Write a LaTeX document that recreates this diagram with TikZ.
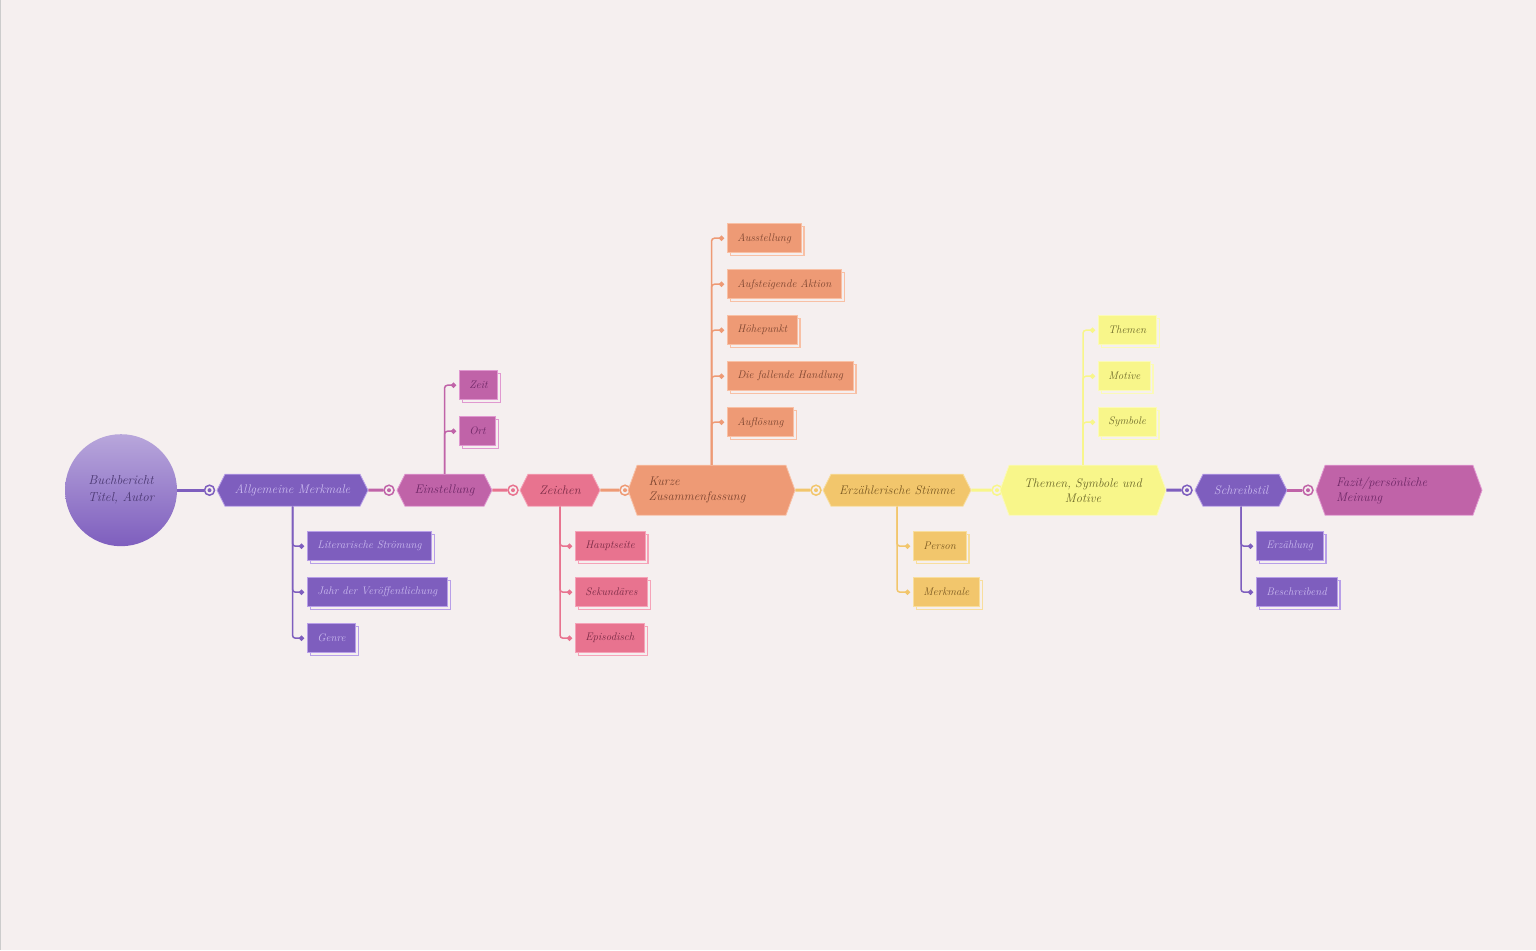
\documentclass[tikz,border=0pt]{standalone}
\usetikzlibrary{shapes.symbols,shadows,arrows.meta}
\definecolor{bg}{HTML}{F5EFEF}
\definecolor{lila}{HTML}{7E5EBE}\definecolor{lilaL}{HTML}{B89FE8}\definecolor{lilaT}{HTML}{CBBAF0}
\definecolor{fuchs}{HTML}{C063A8}\definecolor{fuchsL}{HTML}{E098D0}\definecolor{fuchsT}{HTML}{6E2766}
\definecolor{rosa}{HTML}{E8738F}\definecolor{rosaL}{HTML}{F5A3B8}\definecolor{rosaT}{HTML}{7A2A45}
\definecolor{lachs}{HTML}{EE9A75}\definecolor{lachsL}{HTML}{F8C0A5}\definecolor{lachsT}{HTML}{7E4530}
\definecolor{senf}{HTML}{F2C66C}\definecolor{senfL}{HTML}{F8DE9E}\definecolor{senfT}{HTML}{7C5A22}
\definecolor{zitron}{HTML}{F8F68A}\definecolor{zitronL}{HTML}{FBFAB8}\definecolor{zitronT}{HTML}{6E6A2A}
\begin{document}
\begin{tikzpicture}[
  x=1pt, y=-1pt,
  hexa/.style={signal, signal to=east and west, signal pointer angle=127, fill=#1, draw=#1L, text=#1T,
    line width=0.8pt, minimum height=32pt, inner sep=0pt, font=\fontsize{12.5}{15}\selectfont\itshape},
  bighexa/.style={hexa=#1, minimum height=50pt, signal pointer angle=140},
  leaf/.style={rectangle, fill=#1, draw=#1L, text=#1T, line width=0.6pt, minimum height=29pt,
    inner xsep=10pt, anchor=west, font=\fontsize{11}{13}\selectfont\itshape,
    copy shadow={shadow xshift=3pt, shadow yshift=-3pt, fill=none, draw=#1L, line width=1.5pt}},
  ring/.style={circle, draw=#1, fill=bg, line width=1.5pt, minimum size=10pt, inner sep=0pt,
    path picture={\fill[#1] (path picture bounding box.center) circle (2pt);}},
  link/.style={draw=#1, line width=3pt},
  twig/.style={draw=#1, line width=1.5pt, rounded corners=3pt, -{Circle[length=5pt]}, shorten >=3pt}
]
\fill[bg] (0,0) rectangle (1536,950);
\draw[black!20] (0.5,0) -- (0.5,950);

% root
\node[circle, minimum size=112pt, top color=lila!55!white, bottom color=lila, draw=none,
  text=lila!60!black, align=center, font=\fontsize{13}{17}\selectfont\itshape] (root) at (121,490)
  {Buchbericht\\Titel, Autor};

% rings in front of each branch
\node[ring=lila] (r1) at (209.5,490) {};
\node[ring=fuchs] (r2) at (389,490) {};
\node[ring=rosa] (r3) at (513,490) {};
\node[ring=lachs] (r4) at (625,490) {};
\node[ring=senf] (r5) at (816,490) {};
\node[ring=zitron] (r6) at (997,490) {};
\node[ring=lila] (r7) at (1187,490) {};
\node[ring=fuchs] (r8) at (1308,490) {};

% main branches
\node[hexa=lila, minimum width=151pt] (am) at (292.5,490) {Allgemeine Merkmale};
\node[hexa=fuchs, minimum width=95pt] (es) at (444.5,490) {Einstellung};
\node[hexa=rosa, minimum width=80pt] (ze) at (560,490) {Zeichen};
\node[bighexa=lachs, minimum width=167pt, text width=126pt, align=left] (kz) at (711.5,490) {Kurze\\Zusammenfassung};
\node[hexa=senf, minimum width=148pt] (st) at (897,490) {Erzählerische Stimme};
\node[bighexa=zitron, minimum width=166pt, text width=140pt, align=center] (ts) at (1083,490) {Themen, Symbole und\\Motive};
\node[hexa=lila, minimum width=92pt] (sb) at (1241,490) {Schreibstil};
\node[bighexa=fuchs, minimum width=166pt, text width=126pt, align=left] (fz) at (1399,490) {Fazit/persönliche\\Meinung};

\draw[link=lila] (root) -- (r1);
\draw[link=fuchs] (am) -- (r2);
\draw[link=rosa] (es) -- (r3);
\draw[link=lachs] (ze) -- (r4);
\draw[link=senf] (kz) -- (r5);
\draw[link=zitron] (st) -- (r6);
\draw[link=lila] (ts) -- (r7);
\draw[link=fuchs] (sb) -- (r8);

% leaves
\node[leaf=lila] (am1) at (307,546) {Literarische Strömung};
\node[leaf=lila] (am2) at (307,592) {Jahr der Veröffentlichung};
\node[leaf=lila] (am3) at (307,638) {Genre};
\node[leaf=fuchs] (es1) at (459,385) {Zeit};
\node[leaf=fuchs] (es2) at (459,431) {Ort};
\node[leaf=rosa] (ze1) at (575,546) {Hauptseite};
\node[leaf=rosa] (ze2) at (575,592) {Sekundäres};
\node[leaf=rosa] (ze3) at (575,638) {Episodisch};
\node[leaf=lachs] (kz1) at (727,238) {Ausstellung};
\node[leaf=lachs] (kz2) at (727,284) {Aufsteigende Aktion};
\node[leaf=lachs] (kz3) at (727,330) {Höhepunkt};
\node[leaf=lachs] (kz4) at (727,376) {Die fallende Handlung};
\node[leaf=lachs] (kz5) at (727,422) {Auflösung};
\node[leaf=senf] (st1) at (913,546) {Person};
\node[leaf=senf] (st2) at (913,592) {Merkmale};
\node[leaf=zitron] (ts1) at (1098,330) {Themen};
\node[leaf=zitron] (ts2) at (1098,376) {Motive};
\node[leaf=zitron] (ts3) at (1098,422) {Symbole};
\node[leaf=lila] (sb1) at (1256,546) {Erzählung};
\node[leaf=lila] (sb2) at (1256,592) {Beschreibend};

\foreach \n in {am1,am2,am3} \draw[twig=lila] (am.south) |- (\n.west);
\foreach \n in {es1,es2} \draw[twig=fuchs] (es.north) |- (\n.west);
\foreach \n in {ze1,ze2,ze3} \draw[twig=rosa] (ze.south) |- (\n.west);
\foreach \n in {kz1,kz2,kz3,kz4,kz5} \draw[twig=lachs] (kz.north) |- (\n.west);
\foreach \n in {st1,st2} \draw[twig=senf] (st.south) |- (\n.west);
\foreach \n in {ts1,ts2,ts3} \draw[twig=zitron] (ts.north) |- (\n.west);
\foreach \n in {sb1,sb2} \draw[twig=lila] (sb.south) |- (\n.west);
\end{tikzpicture}
\end{document}
